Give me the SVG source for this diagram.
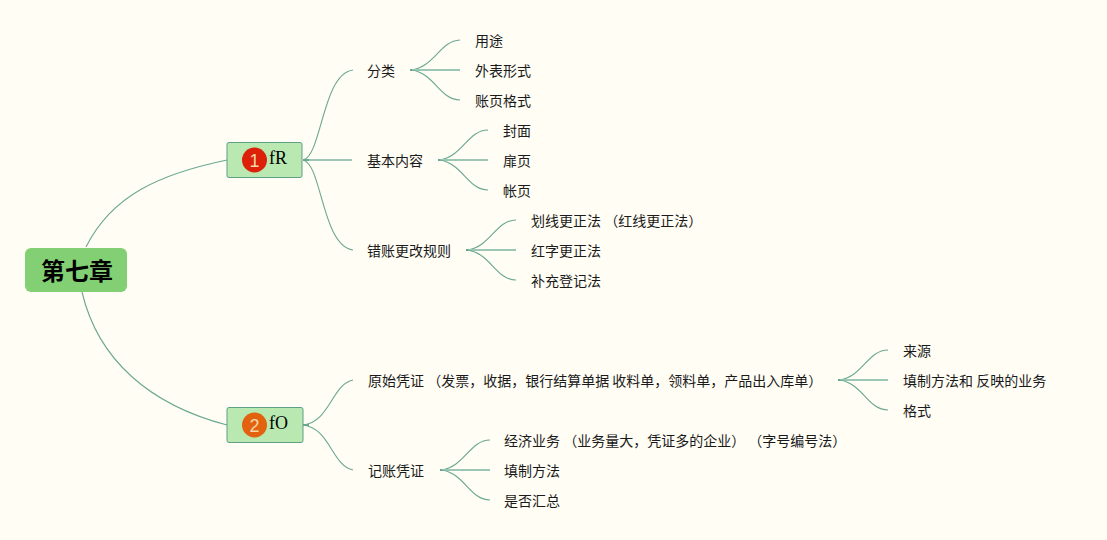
<svg xmlns="http://www.w3.org/2000/svg" width="1107" height="540" viewBox="0 0 1107 540">
<style>
text{font-family:"Noto Sans CJK SC","Noto Sans",sans-serif;font-size:14px;fill:#1a1a1a}
.c{fill:none;stroke:#6ba892;stroke-width:1.1}
.s{fill:none;stroke:#9cc7b4;stroke-width:1.8}
.t{fill:none;stroke:#6ba892;stroke-width:2.2}
.topic{fill:#b9e8b0;stroke:#5f9f86;stroke-width:1}
.fs{font-family:"Liberation Serif","Noto Serif",serif;font-size:18px;fill:#000}
.num{font-family:"Liberation Sans",sans-serif;font-size:18px;fill:#f3d9a8;text-anchor:middle}
</style>
<rect width="1107" height="540" fill="#fffdf4"/>
<g id="connectors">
<path class="c" d="M86 247C112 195 160 174 227 160"/>
<path class="c" d="M82 292C98 360 150 405 227 425"/>
<path class="c" d="M303 160C322 156 322 74 353 70"/>
<path class="s" d="M303 160H352"/>
<path class="c" d="M303 160C322 164 322 246 353 250"/>
<path class="c" d="M303 425C330 422 332 384 353 380"/>
<path class="c" d="M303 425C330 428 332 466 353 470"/>
<path class="t" d="M303 160H309M303 425H309M410 70H419M438 160H447M466 250H475M838 380H847M440 470H449"/>
<path class="c" d="M412 70C435 66 440 41 460 40"/><path class="s" d="M412 70H460"/><path class="c" d="M412 70C435 74 440 100 460 100"/>
<path class="c" d="M440 160C463 156 468 130 488 130"/><path class="s" d="M440 160H488"/><path class="c" d="M440 160C463 164 468 190 488 190"/>
<path class="c" d="M468 250C491 246 496 220 516 220"/><path class="s" d="M468 250H516"/><path class="c" d="M468 250C491 254 496 280 516 280"/>
<path class="c" d="M840 380C863 376 868 350 888 350"/><path class="s" d="M840 380H888"/><path class="c" d="M840 380C863 384 868 410 888 410"/>
<path class="c" d="M442 470C465 466 470 440 490 440"/><path class="s" d="M442 470H490"/><path class="c" d="M442 470C465 474 470 500 490 500"/>
</g>
<g id="root"><rect x="25" y="248" width="102" height="44" rx="6" fill="#82cf74"/><text x="41" y="280" style="font-size:24px;font-weight:700;fill:#000">第七章</text></g>
<g id="topic1"><rect class="topic" x="227" y="142.500" width="75" height="35" rx="2"/><circle cx="254.500" cy="160" r="12.500" fill="#dc2009"/><text class="num" x="254.500" y="166.500">1</text><text class="fs" x="269" y="164">fR</text></g>
<g id="topic2"><rect class="topic" x="227" y="407.500" width="76" height="35" rx="2"/><circle cx="254.500" cy="425" r="12.500" fill="#e2620f"/><text class="num" x="254.500" y="431.500">2</text><text class="fs" x="269" y="429">fO</text></g>
<g id="n-fenlei"><text x="367" y="76">分类</text></g>
<g id="n-yongtu"><text x="475" y="46">用途</text></g>
<g id="n-waibiao"><text x="475" y="76">外表形式</text></g>
<g id="n-zhangye"><text x="475" y="106">账页格式</text></g>
<g id="n-jiben"><text x="367" y="166">基本内容</text></g>
<g id="n-fengmian"><text x="503" y="136">封面</text></g>
<g id="n-feiye"><text x="503" y="166">扉页</text></g>
<g id="n-zhangye2"><text x="503" y="196">帐页</text></g>
<g id="n-cuozhang"><text x="367" y="256">错账更改规则</text></g>
<g id="n-huaxian"><text x="531" y="226">划线更正法 （红线更正法）</text></g>
<g id="n-hongzi"><text x="531" y="256">红字更正法</text></g>
<g id="n-buchong"><text x="531" y="286">补充登记法</text></g>
<g id="n-yuanshi"><text x="368" y="386">原始凭证 （发票，收据，银行结算单据 收料单，领料单，产品出入库单）</text></g>
<g id="n-laiyuan"><text x="903" y="356">来源</text></g>
<g id="n-tianzhi"><text x="903" y="386">填制方法和 反映的业务</text></g>
<g id="n-geshi"><text x="903" y="416">格式</text></g>
<g id="n-jizhang"><text x="368" y="476">记账凭证</text></g>
<g id="n-jingji"><text x="504" y="446">经济业务 （业务量大，凭证多的企业） （字号编号法）</text></g>
<g id="n-tianzhi2"><text x="504" y="476">填制方法</text></g>
<g id="n-huizong"><text x="504" y="506">是否汇总</text></g>
</svg>
